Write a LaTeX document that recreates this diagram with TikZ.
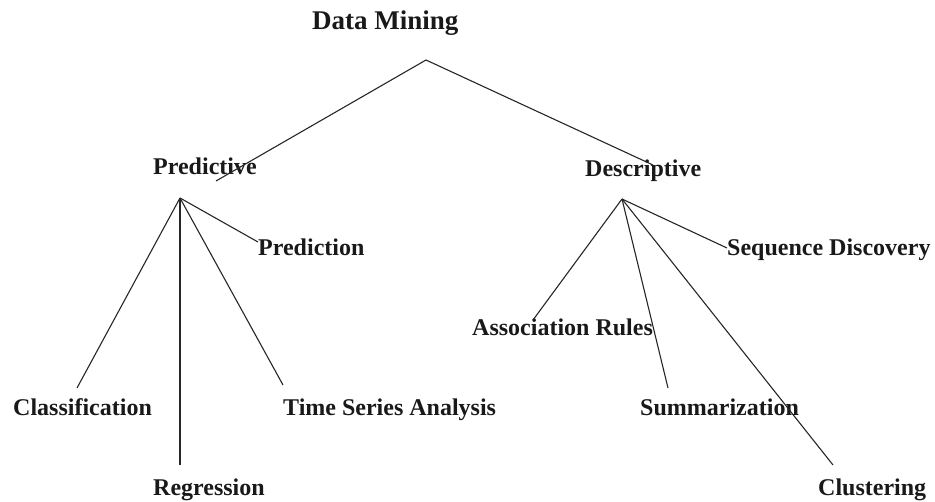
\documentclass[tikz,border=0pt]{standalone}
\usepackage{fontspec}
\setmainfont{Liberation Serif}
\begin{document}
\begin{tikzpicture}[x=1pt,y=-1pt,
  lbl/.style={anchor=base west,inner sep=0pt,font=\bfseries\fontsize{24}{24}\selectfont,text=black!90},
  toplbl/.style={lbl,font=\bfseries\fontsize{27}{27}\selectfont},
  edge/.style={draw=black!85,line width=1.1pt}]
\useasboundingbox (0,0) rectangle (935,502);

% labels
\node[toplbl] (dm)   at (312,30)  {Data Mining};
\node[lbl] (pred)    at (153,175) {Predictive};
\node[lbl] (desc)    at (585,177) {Descriptive};
\node[lbl] (predn)   at (258,256) {Prediction};
\node[lbl] (seq)     at (727,256) {Sequence Discovery};
\node[lbl] (class)   at (13,416)  {Classification};
\node[lbl] (tsa)     at (283,416) {Time Series Analysis};
\node[lbl] (assoc)   at (472,336) {Association Rules};
\node[lbl] (summ)    at (640,416) {Summarization};
\node[lbl] (regr)    at (153,496) {Regression};
\node[lbl] (clust)   at (818,496) {Clustering};

% branching points and line ends
\coordinate (dmfork)   at (426,60);
\coordinate (predfork) at (180,198);
\coordinate (descfork) at (622,199);
\coordinate (toPred)   at (216,181);
\coordinate (toDesc)   at (653,165);
\coordinate (toClass)  at (77,388);
\coordinate (toRegr)   at (180,465);
\coordinate (toTsa)    at (283,385);
\coordinate (toPredn)  at (258,242);
\coordinate (toAssoc)  at (533,320);
\coordinate (toSumm)   at (668,388);
\coordinate (toClust)  at (833,465);
\coordinate (toSeq)    at (727,248);

% tree edges
\draw[edge] (toPred) -- (dmfork) -- (toDesc);
\draw[edge] (predfork) -- (toClass);
\draw[edge] (predfork) -- (toRegr);
\draw[edge] (predfork) -- (toTsa);
\draw[edge] (predfork) -- (toPredn);
\draw[edge] (descfork) -- (toAssoc);
\draw[edge] (descfork) -- (toSumm);
\draw[edge] (descfork) -- (toClust);
\draw[edge] (descfork) -- (toSeq);
\end{tikzpicture}
\end{document}
